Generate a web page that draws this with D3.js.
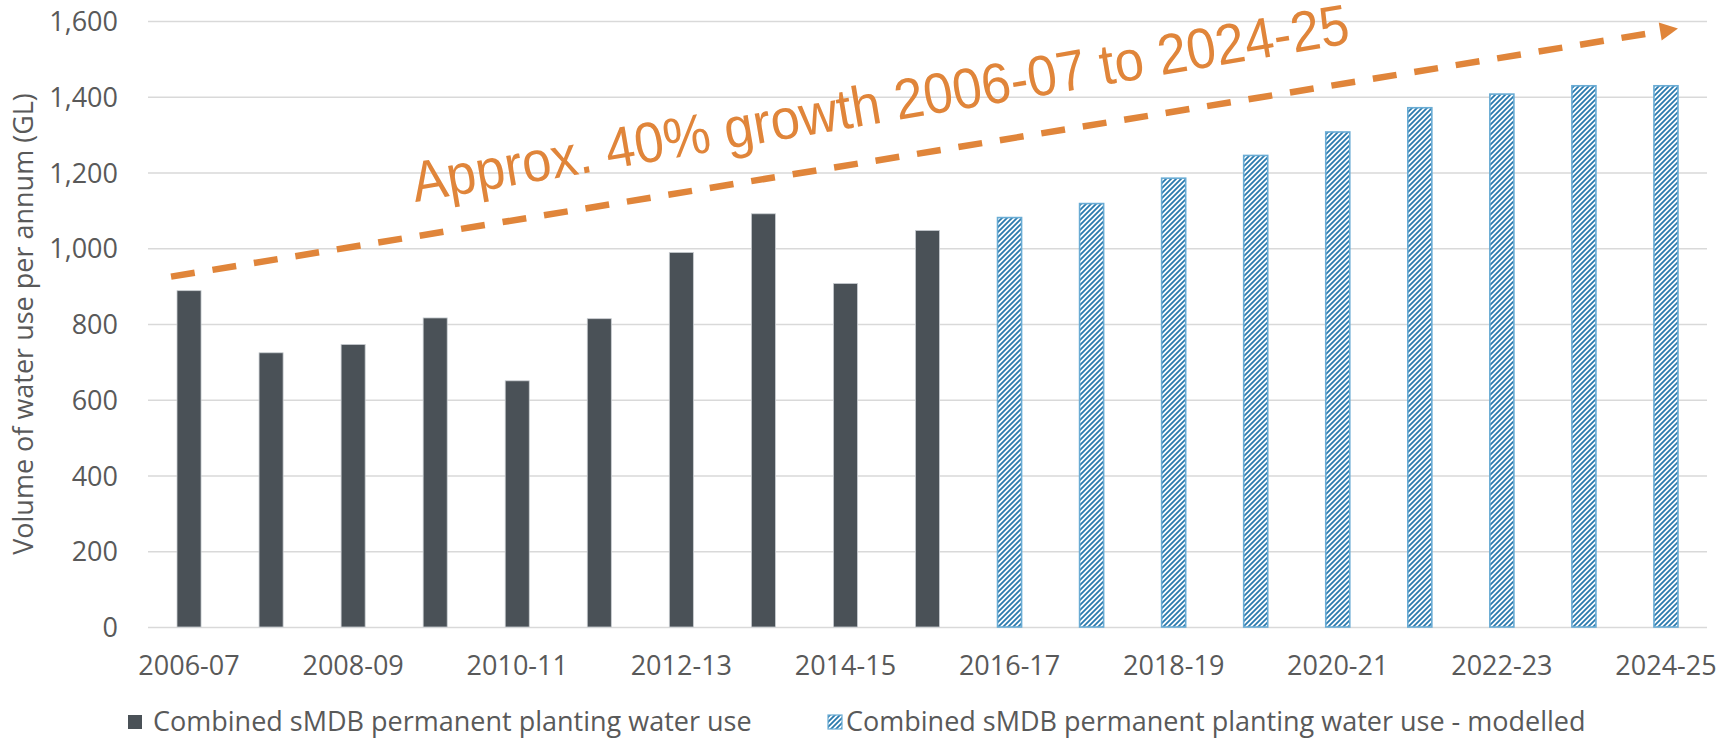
<!DOCTYPE html>
<html lang="en">
<head>
  <meta charset="UTF-8" />
  <title>sMDB permanent planting water use</title>
  <script src="https://d3js.org/d3.v7.min.js"></script>
  <style>
    body { margin: 0; background: white; }
    svg { display: block; }
    .tick text, .legend text, .ytitle { font-family: "Open Sans", sans-serif; fill: #595959; }
    .note { font-family: "Liberation Sans", Arial, sans-serif; fill: #E0853A; }
  </style>
</head>
<body>

<svg width="1735" height="738"></svg>

<script>
  // actual years
  const actualYears = ["2006-07", "2007-08", "2008-09", "2009-10", "2010-11",
                       "2011-12", "2012-13", "2013-14", "2014-15", "2015-16"];
  const actualValues = [888, 724, 746, 816, 650, 814, 989, 1091, 907, 1047];

  // modelled years
  const modelYears = ["2016-17", "2017-18", "2018-19", "2019-20", "2020-21",
                      "2021-22", "2022-23", "2023-24", "2024-25"];
  const modelValues = [1081, 1118, 1185, 1245, 1307, 1371, 1407, 1429, 1429];

  const yTicks = [0, 200, 400, 600, 800, 1000, 1200, 1400, 1600];
  const xTickLabels = ["2006-07", "2008-09", "2010-11", "2012-13", "2014-15",
                       "2016-17", "2018-19", "2020-21", "2022-23", "2024-25"];

  const legendLabels = ["Combined sMDB permanent planting water use",
                        "Combined sMDB permanent planting water use - modelled"];
  const yTitle = "Volume of water use per annum (GL)";
  const noteText = "Approx. 40% growth 2006-07 to 2024-25";

  // arrow annotation in data terms (category + value)
  const arrowFrom = { cat: "2006-07", value: 925, dx: -18 };
  const arrowTo = { cat: "2024-25", value: 1580, dx: 12 };
  const notePos = { cat: "2009-10", value: 1122, dx: -20 };

  const svg = d3.select("svg");
  const mLeft = 148, mRight = 1707, mTop = 21, mBottom = 627;

  const allYears = actualYears.concat(modelYears);

  const x = d3.scaleBand()
    .domain(allYears)
    .range([mLeft, mRight])
    .paddingInner(0.707)
    .paddingOuter(0.3535);

  const y = d3.scaleLinear()
    .domain([0, 1600])
    .range([mBottom, mTop]);

  // hatch pattern
  const defs = svg.append("defs");
  const pat = defs.append("pattern")
    .attr("id", "hatch")
    .attr("patternUnits", "userSpaceOnUse")
    .attr("width", 5)
    .attr("height", 5);
  pat.append("rect").attr("width", 5).attr("height", 5).attr("fill", "white");
  pat.append("path")
    .attr("d", "M-1,1 l2,-2 M0,5 l5,-5 M4,6 l2,-2")
    .attr("stroke", "#2A7AAE")
    .attr("stroke-width", 1.8);

  // gridlines + y axis
  const yAxis = svg.append("g")
    .attr("transform", `translate(${mLeft},0)`)
    .call(d3.axisLeft(y).tickValues(yTicks).tickFormat(d3.format(",")).tickSize(-(mRight - mLeft)).tickPadding(30));
  yAxis.select(".domain").remove();
  yAxis.selectAll(".tick line").attr("stroke", "#D9D9D9").attr("stroke-width", 1.3);
  yAxis.selectAll(".tick text").attr("font-size", 27).attr("dy", "0.36em");

  // x axis labels (every other year)
  const xAxis = svg.append("g")
    .attr("transform", `translate(0,${mBottom})`)
    .call(d3.axisBottom(x).tickValues(xTickLabels).tickSize(0));
  xAxis.select(".domain").remove();
  xAxis.selectAll(".tick text").attr("font-size", 27).attr("y", 48).attr("dy", 0);

  // actual bars
  svg.append("g").selectAll("rect")
    .data(actualYears.map((d, i) => [d, actualValues[i]]))
    .join("rect")
    .attr("x", d => x(d[0]))
    .attr("width", x.bandwidth())
    .attr("y", d => y(d[1]))
    .attr("height", d => y(0) - y(d[1]))
    .attr("fill", "#4A5157")
    .attr("stroke", "#C9CDD1")
    .attr("stroke-width", 0.8);

  // modelled bars
  svg.append("g").selectAll("rect")
    .data(modelYears.map((d, i) => [d, modelValues[i]]))
    .join("rect")
    .attr("x", d => x(d[0]))
    .attr("width", x.bandwidth())
    .attr("y", d => y(d[1]))
    .attr("height", d => y(0) - y(d[1]))
    .attr("fill", "url(#hatch)")
    .attr("stroke", "#6AACD4")
    .attr("stroke-width", 1.6);

  // dashed growth arrow
  const x1 = x(arrowFrom.cat) + x.bandwidth() / 2 + arrowFrom.dx, y1 = y(arrowFrom.value);
  const x2 = x(arrowTo.cat) + x.bandwidth() / 2 + arrowTo.dx, y2 = y(arrowTo.value);
  const ang = Math.atan2(y2 - y1, x2 - x1);
  const headLen = 18, headW = 9;
  const bx = x2 - headLen * Math.cos(ang), by = y2 - headLen * Math.sin(ang);

  svg.append("line")
    .attr("x1", x1).attr("y1", y1)
    .attr("x2", bx).attr("y2", by)
    .attr("stroke", "#E0853A")
    .attr("stroke-width", 6.5)
    .attr("stroke-dasharray", "24 18");

  svg.append("polygon")
    .attr("points", [
      [x2, y2],
      [bx - headW * Math.sin(ang), by + headW * Math.cos(ang)],
      [bx + headW * Math.sin(ang), by - headW * Math.cos(ang)]
    ].map(p => p.join(",")).join(" "))
    .attr("fill", "#E0853A");

  // annotation text
  const nx = x(notePos.cat) + x.bandwidth() / 2 + notePos.dx, ny = y(notePos.value);
  svg.append("text")
    .attr("class", "note")
    .attr("transform", `translate(${nx},${ny}) rotate(${ang * 180 / Math.PI - 0.3})`)
    .attr("font-size", 57)
    .attr("textLength", 950)
    .attr("lengthAdjust", "spacingAndGlyphs")
    .text(noteText);

  // y axis title
  svg.append("text")
    .attr("class", "ytitle")
    .attr("transform", `translate(33,${(mTop + mBottom) / 2}) rotate(-90)`)
    .attr("text-anchor", "middle")
    .attr("font-size", 27)
    .text(yTitle);

  // legend
  const legend = svg.append("g").attr("class", "legend");
  legend.append("rect")
    .attr("x", 128).attr("y", 715).attr("width", 14).attr("height", 14)
    .attr("fill", "#4A5157");
  legend.append("text")
    .attr("x", 153).attr("y", 731).attr("font-size", 27)
    .text(legendLabels[0]);
  legend.append("rect")
    .attr("x", 828).attr("y", 715).attr("width", 14).attr("height", 14)
    .attr("fill", "url(#hatch)").attr("stroke", "#6AACD4").attr("stroke-width", 1.2);
  legend.append("text")
    .attr("x", 846).attr("y", 731).attr("font-size", 27)
    .text(legendLabels[1]);
</script>

</body>
</html>
